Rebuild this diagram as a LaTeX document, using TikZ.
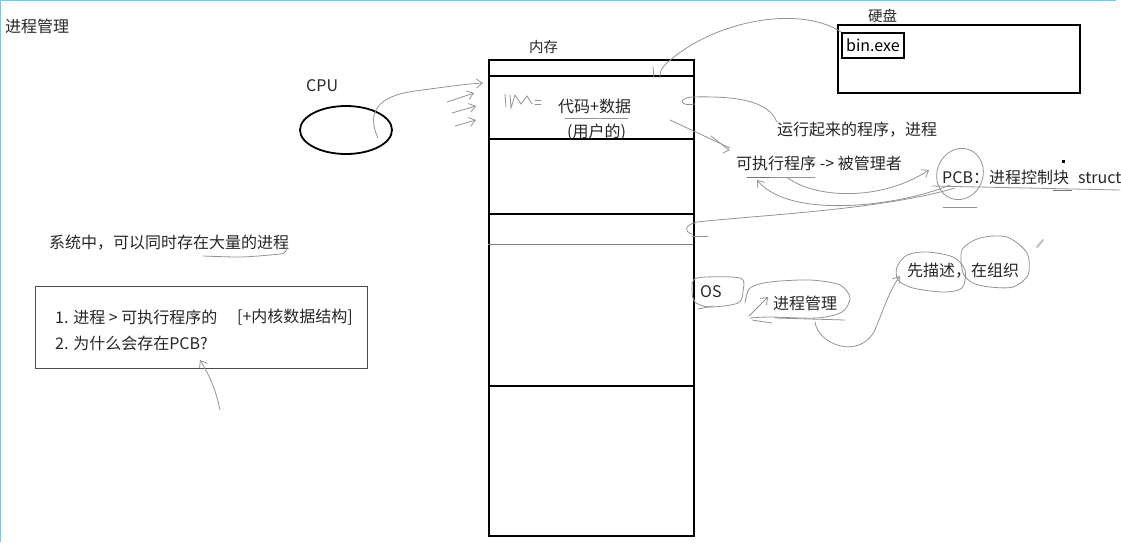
\documentclass[tikz,border=0pt]{standalone}
\usepackage{fontspec}
\setmainfont{Noto Sans CJK SC}
\usetikzlibrary{arrows.meta,shapes.geometric}

\tikzset{
  ink/.style={line width=1.8pt, black},
  pen/.style={gray!85, line width=0.8pt, line cap=round},
  penarrow/.style={pen, -{Straight Barb[length=6pt,width=9pt]}},
  lbl/.style={inner sep=0pt, anchor=west, text=black!85, font=\fontsize{16}{19}\selectfont},
  small/.style={lbl, font=\fontsize{14.5}{17}\selectfont},
}

\begin{document}
\begin{tikzpicture}[x=1pt,y=-1pt]
        \useasboundingbox (0,0) rectangle (1121,542);
        % screen edges
        \draw[cyan!60, line width=1.5pt] (0,0.7) -- (1116,0.7);
        \draw[cyan!60, line width=1.5pt] (0.7,0) -- (0.7,542);

        % title
        \node[lbl] (title) at (5,26) {进程管理};

        % memory
        \node[draw, ink, anchor=north west, minimum width=205pt, minimum height=476pt, inner sep=0pt] (mem) at (488,59) {};
        \node[small] (memlabel) at (529,47) {内存};
        \foreach \y in {76,139,214,386}
            \draw[ink] (488,\y) -- (693,\y);
        \draw[gray, line width=0.8pt] (488,244) -- (693,244);
        \node[lbl] (code) at (558,106) {代码+数据};
        \node[lbl] (user) at (567,132) {(用户的)};
        \draw[pen] (565,118) -- (628,118);
        % scribble in memory
        \draw[pen] (505,94) -- (506,107);
        \draw[pen] (510,95) -- (511,108) -- (515,95) -- (521,104) -- (527,96) -- (532,104);
        \draw[pen] (535,100) -- (541,100) (535,104) -- (541,104);

        % CPU
        \node[ellipse, draw, ink, minimum width=92pt, minimum height=48pt] (cpu) at (346,130) {};
        \node[lbl] (cpulabel) at (306,86) {CPU};
        \coordinate (cpuin) at (378,138);
        \coordinate (memin) at (483,83);
        \draw[penarrow] (cpuin) .. controls (366,112) and (378,96) .. (415,91) .. controls (445,87) and (465,84) .. (memin);
        \draw[penarrow] (447,102) -- (474,93);
        \draw[penarrow] (452,113) -- (476,106);
        \draw[penarrow] (455,126) -- (476,120);

        % disk
        \node[draw, ink, anchor=north west, minimum width=242pt, minimum height=68pt, inner sep=0pt] (disk) at (837,24) {};
        \node[small] (disklabel) at (868,16) {硬盘};
        \node[draw, ink, anchor=north west, minimum width=62pt, minimum height=25pt, inner sep=0pt, font=\fontsize{16}{19}\selectfont] (bin) at (841,32) {bin.exe};
        \coordinate (memtop) at (660,78);
        \draw[pen] (bin.north west) .. controls (800,5) and (715,20) .. (668,62) .. controls (661,68) and (659,74) .. (memtop);
        \draw[pen] (653,67) -- (654,78);

        % program and process
        \node[lbl] (run) at (777,130) {运行起来的程序，进程};
        \node[lbl] (exe) at (736,163) {可执行程序 -> 被管理者};
        \node[lbl] (pcb) at (942,177) {PCB：进程控制块};
        \node[lbl] (struct) at (1078,178) {struct};
        \fill (1062,160) rectangle (1065,163);
        \coordinate (runend) at (695,104);
        \draw[pen] (run.north west) .. controls (768,100) and (735,96) .. (692,97) .. controls (678,98) and (679,107) .. (runend);
        \draw[pen] (670,120) -- (730,148);
        \draw[pen] (711,136) -- (729,150) -- (723,153);
        \draw[pen] (747,177) -- (815,177);
        \draw[gray!90!black, line width=1pt] (747,177) -- (770,177);
        \coordinate (exefoot) at (788,178);
        \coordinate (pcbin) at (929,170);
        \draw[penarrow] (exefoot) .. controls (815,198) and (880,202) .. (pcbin);
        \coordinate (pcbfoot) at (950,185);
        \coordinate (exeback) at (757,180);
        \draw[penarrow] (pcbfoot) .. controls (900,206) and (790,220) .. (exeback);
        \coordinate (pcbtail) at (955,188);
        \coordinate (memmid) at (692,234);
        \draw[pen] (pcbtail) .. controls (880,210) and (760,215) .. (697,222) .. controls (684,225) and (684,232) .. (memmid);
        \draw[pen] (692,236) -- (708,236);
        \draw[pen, rotate around={-20:(960,174)}] (960,174) ellipse (23pt and 26pt);
        \draw[pen] (932,186) -- (1120,190);
        \draw[gray!90!black, line width=1pt] (1053,190) -- (1072,190);
        \draw[pen] (943,207) -- (977,207);

        % OS and management
        \node[lbl] (os) at (700,292) {OS};
        \node[lbl] (pm) at (773,303) {进程管理};
        \node[lbl] (desc) at (907,271) {先描述，在组织};
        \draw[pen] plot[smooth cycle] coordinates {(697,278) (740,278) (743,291) (738,303) (710,307) (695,302) (692,290)};
        \draw[pen] (698,309) -- (713,306);
        \draw[pen] plot[smooth] coordinates {(745,303) (750,288) (770,282) (810,280) (840,285) (850,298) (842,312) (817,318) (770,317) (750,318)};
        \draw[penarrow] (749,316) -- (768,297);
        \draw[pen] (752,320) -- (772,323);
        \draw[pen] (775,318) -- (845,320);
        \coordinate (pmfoot) at (815,322);
        \coordinate (descin) at (900,276);
        \draw[penarrow] (pmfoot) .. controls (818,345) and (860,360) .. (875,330) .. controls (885,305) and (890,290) .. (descin);
        \draw[pen] plot[smooth cycle] coordinates {(907,255) (927,252) (953,257) (965,270) (962,288) (943,292) (913,288) (898,280) (897,267)};
        \draw[pen] plot[smooth cycle] coordinates {(962,250) (980,238) (1007,237) (1027,253) (1028,275) (1013,287) (990,287) (973,283) (963,273)};
        \draw[gray!50, line width=2pt, line cap=round] (1037,247) -- (1043,240);

        % many processes
        \node[lbl] (many) at (49,243) {系统中，可以同时存在大量的进程};
        \draw[pen] plot[smooth] coordinates {(203,256) (240,257) (270,255) (284,253) (287,247)};

        % note box
        \node[draw, gray!60!black, line width=0.9pt, anchor=north west, minimum width=332pt, minimum height=82pt, inner sep=0pt] (note) at (35,286) {};
        \node[lbl] (note1) at (55,317) {1. 进程 > 可执行程序的};
        \node[lbl] (note1b) at (237,317) {[+内核数据结构]};
        \node[lbl] (note2) at (55,343) {2. 为什么会存在PCB?};
        \coordinate (notefoot) at (220,410);
        \coordinate (notetip) at (200,360);
        \draw[penarrow] (notefoot) .. controls (215,385) and (206,370) .. (notetip);
\end{tikzpicture}
\end{document}
